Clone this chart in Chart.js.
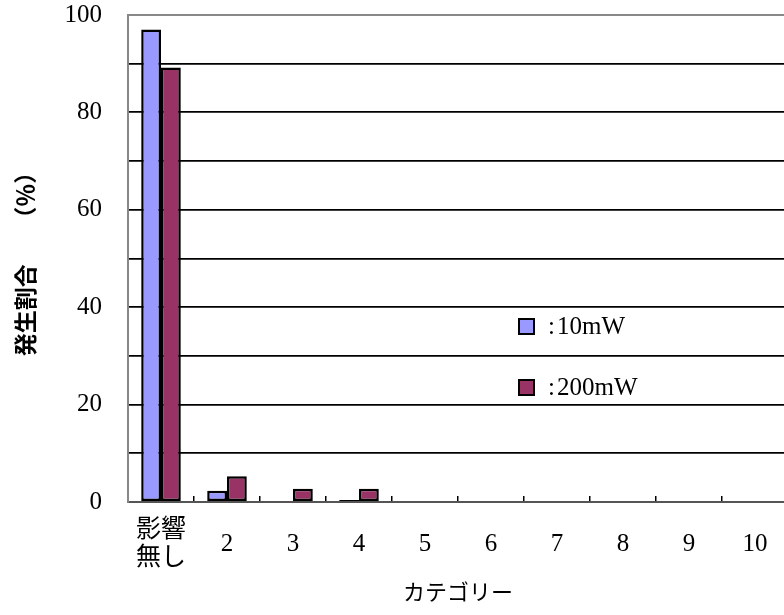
<!DOCTYPE html>
<html>
<head>
<meta charset="utf-8">
<script src="https://cdn.jsdelivr.net/npm/chart.js@4/dist/chart.umd.min.js"></script>
<style>
    html, body { margin: 0; padding: 0; background: #fff; overflow: hidden; }
    #wrap { width: 800px; height: 615px; }
</style>
</head>
<body>
<div id="wrap"><canvas id="chart" width="800" height="615"></canvas></div>
<script>
// chart values
const categories = [['影響', '無し'], '2', '3', '4', '5', '6', '7', '8', '9', '10'];
const seriesLabels = [':10mW', ':200mW'];
const values10mW = [97.0, 2.3, 0, 0.4, 0, 0, 0, 0, 0, 0];
const values200mW = [89.2, 5.3, 2.7, 2.7, 0, 0, 0, 0, 0, 0];
const yTickLabels = [0, 20, 40, 60, 80, 100];

const serif = "'Liberation Serif', 'Noto Sans CJK JP', serif";

// legend drawn inside the plot, like the original
const innerLegend = {
    id: 'innerLegend',
    afterDatasetsDraw(chart) {
        const ctx = chart.ctx;
        const area = chart.chartArea;
        ctx.save();
        chart.data.datasets.forEach((ds, i) => {
            const x = area.left + 391;
            const y = area.top + 304 + i * 61;
            ctx.fillStyle = ds.backgroundColor;
            ctx.fillRect(x, y, 15, 15);
            ctx.lineWidth = 2;
            ctx.strokeStyle = '#000';
            ctx.strokeRect(x, y, 15, 15);
            ctx.fillStyle = '#000';
            ctx.font = '25px ' + serif;
            ctx.textBaseline = 'middle';
            ctx.fillText(ds.label.charAt(0), x + 29, y + 8);
            ctx.fillText(ds.label.slice(1), x + 38, y + 8);
        });
        ctx.restore();
    }
};

new Chart(document.getElementById('chart').getContext('2d'), {
    type: 'bar',
    data: {
        labels: categories,
        datasets: [
            {
                label: seriesLabels[0],
                data: values10mW,
                backgroundColor: '#9999FF',
                borderColor: '#000',
                borderWidth: 2.5,
                borderSkipped: false,
                categoryPercentage: 0.6,
                barPercentage: 1.0
            },
            {
                label: seriesLabels[1],
                data: values200mW,
                backgroundColor: '#993366',
                borderColor: '#000',
                borderWidth: 2.5,
                borderSkipped: false,
                categoryPercentage: 0.6,
                barPercentage: 1.0
            }
        ]
    },
    options: {
        responsive: false,
        animation: false,
        layout: { padding: { top: 15, right: 12, left: 0, bottom: 0 } },
        plugins: {
            legend: { display: false },
            tooltip: { enabled: false }
        },
        scales: {
            x: {
                afterFit: s => { s.height = 113; s.paddingLeft = 0; s.paddingRight = 0; },
                grid: {
                    drawOnChartArea: false,
                    offset: true,
                    tickLength: -6,
                    color: '#000',
                    lineWidth: 1.5
                },
                border: { color: '#555', width: 2 },
                ticks: {
                    color: '#000',
                    font: { family: serif, size: 25, lineHeight: 1.15 },
                    padding: 34,
                    crossAlign: 'center',
                    maxRotation: 0,
                    autoSkip: false
                },
                title: {
                    display: true,
                    text: 'カテゴリー',
                    color: '#000',
                    font: { family: serif, size: 22 },
                    padding: { top: 0, bottom: 8 }
                }
            },
            y: {
                min: 0,
                max: 100,
                afterFit: s => { s.width = 128; s.paddingTop = 0; s.paddingBottom = 0; },
                grid: {
                    drawTicks: false,
                    color: c => (c.tick && c.tick.value === 100 ? '#888' : '#000'),
                    lineWidth: c => (c.tick && c.tick.value === 100 ? 2 : 1.8)
                },
                border: { color: '#888', width: 2 },
                ticks: {
                    stepSize: 10,
                    color: '#000',
                    padding: 26,
                    font: { family: serif, size: 25 },
                    callback: v => (yTickLabels.includes(v) ? String(v) : '')
                },
                title: {
                    display: true,
                    text: '発生割合　　（％）',
                    color: '#000',
                    font: { family: "'Noto Sans CJK JP', sans-serif", size: 23, weight: 'bold' },
                    padding: { top: 11, bottom: 0 }
                }
            }
        }
    },
    plugins: [innerLegend]
});
</script>
</body>
</html>
